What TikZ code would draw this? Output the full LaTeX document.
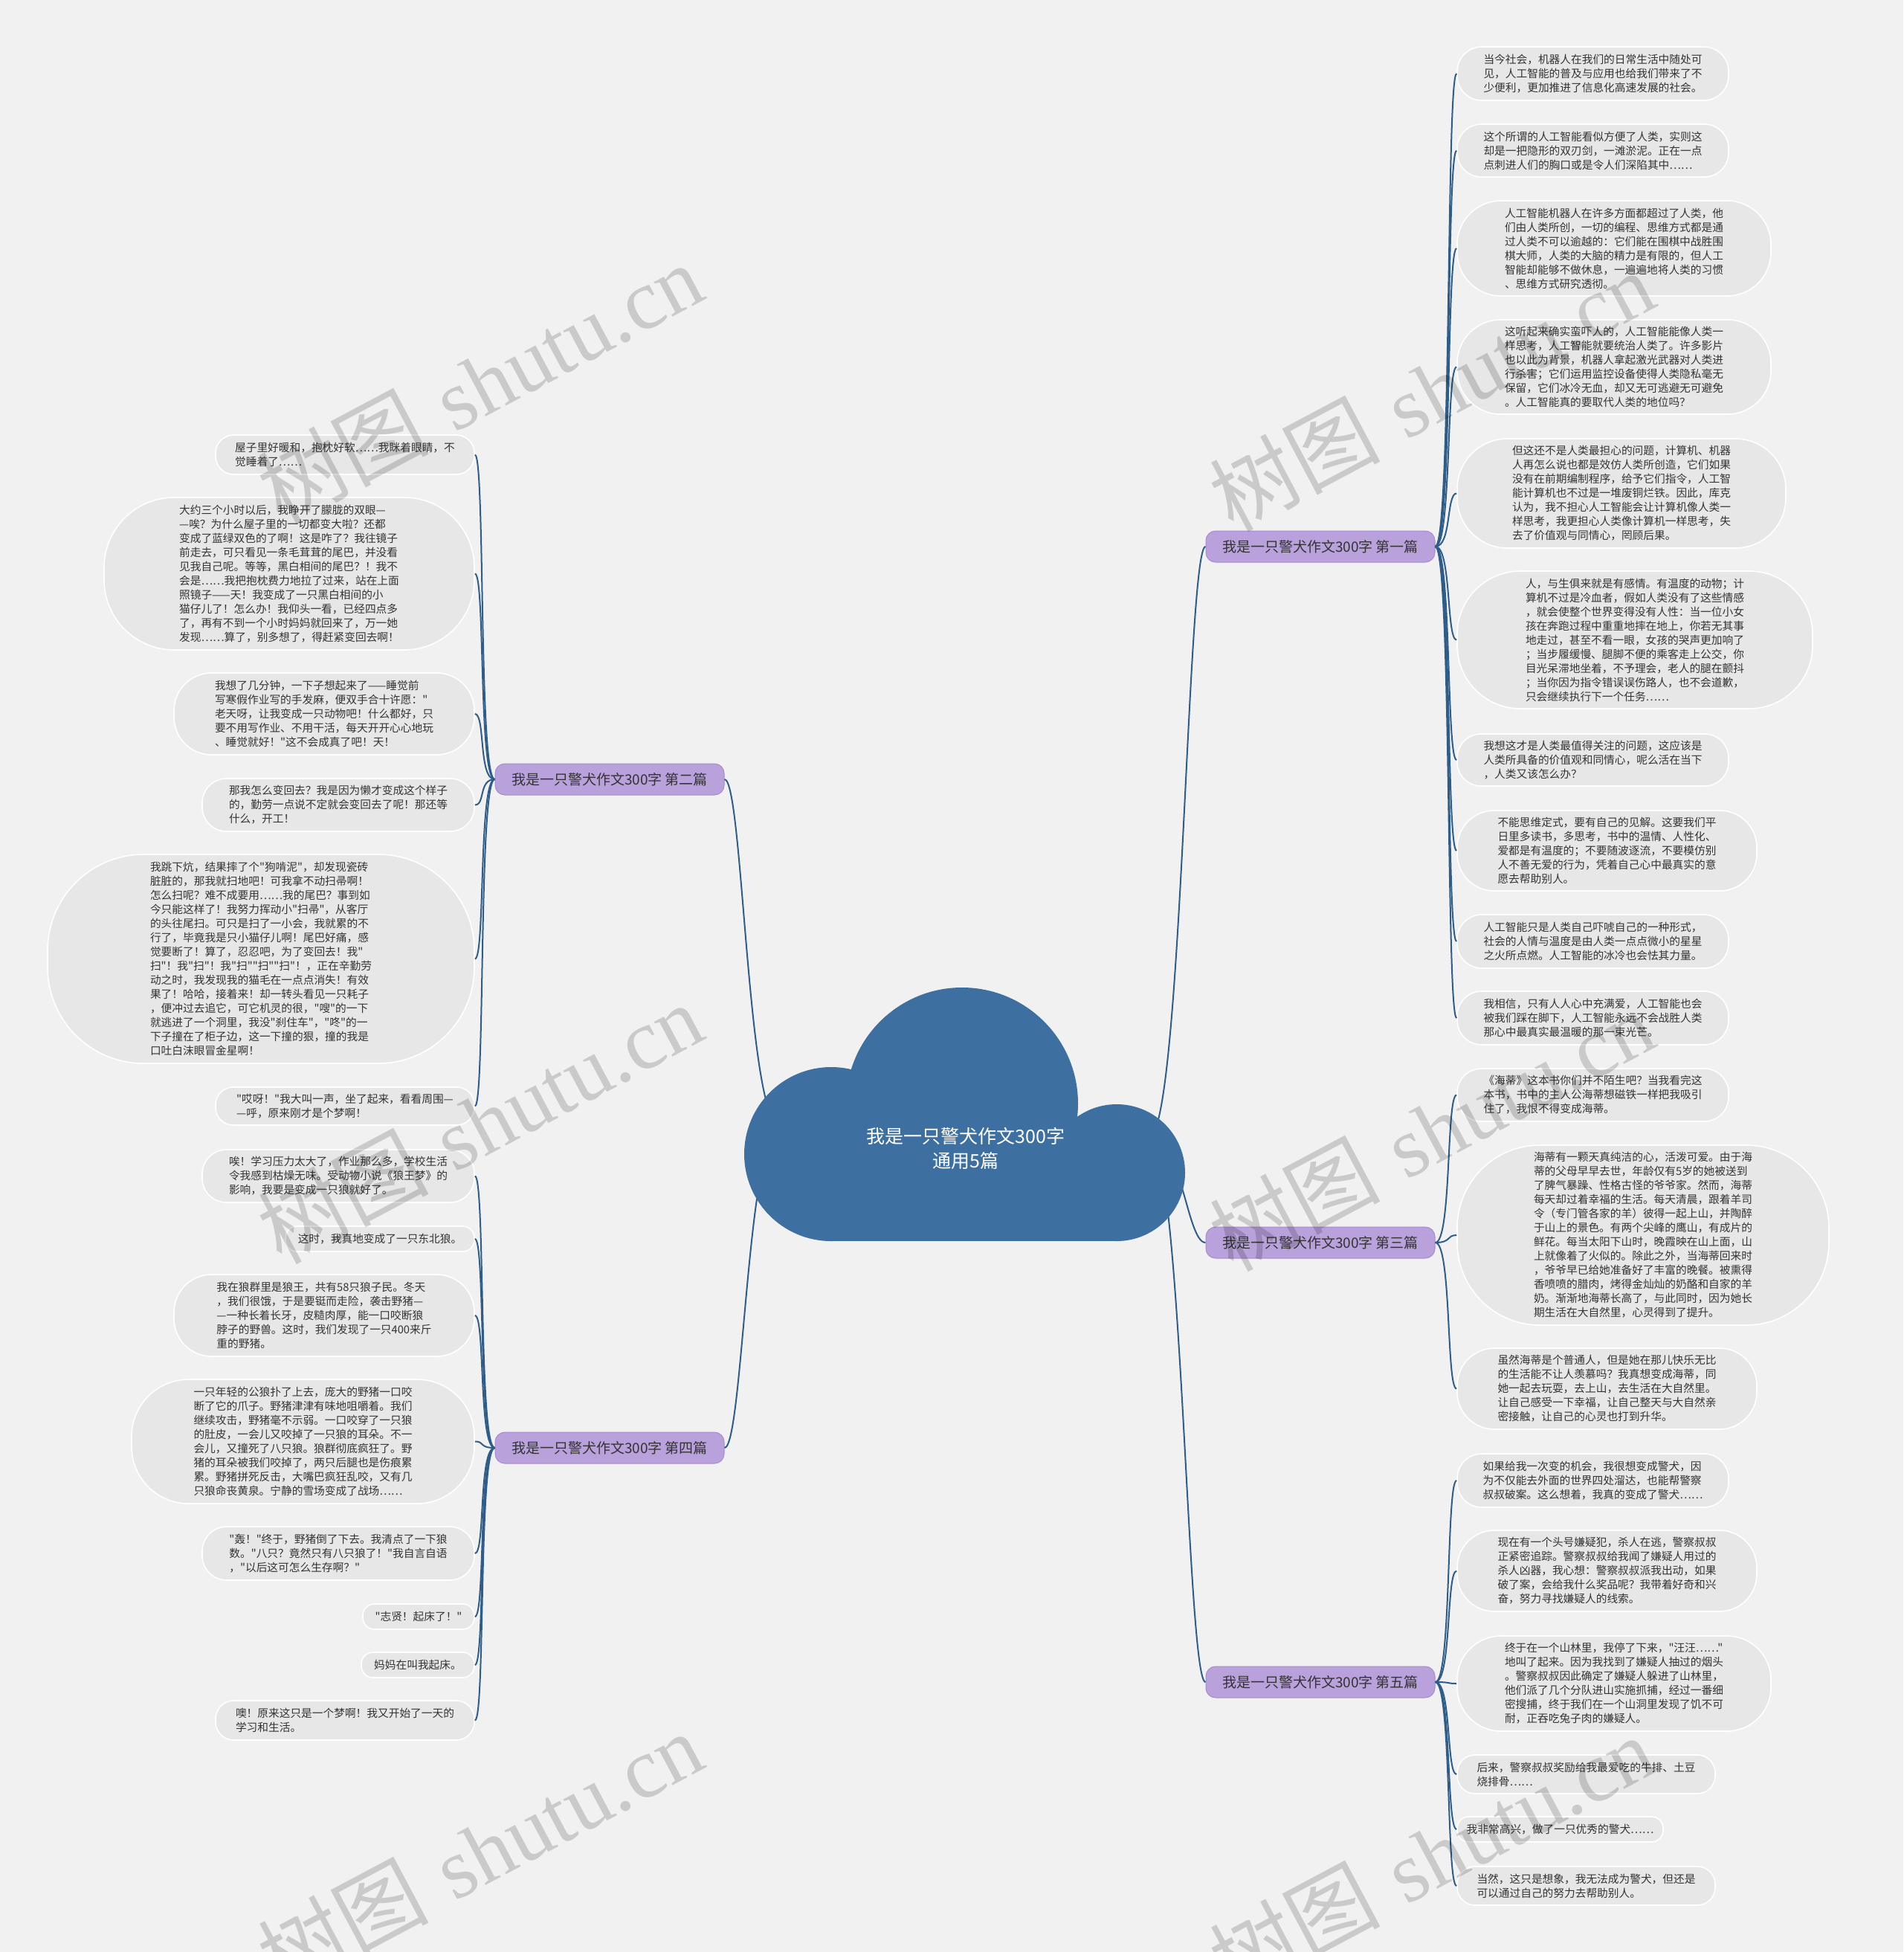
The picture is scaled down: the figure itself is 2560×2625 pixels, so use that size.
\documentclass[tikz,border=0pt]{standalone}
\usepackage{fontspec}
\newfontfamily\cjk{Noto Sans CJK SC}
\newfontfamily\wmserif{Liberation Serif}
\usetikzlibrary{calc}
\definecolor{bgc}{HTML}{F1F1F1}
\definecolor{leafc}{HTML}{E7E7E7}
\definecolor{txtc}{HTML}{333333}
\definecolor{brc}{HTML}{B9A1DB}
\definecolor{brd}{HTML}{A68BCF}
\definecolor{cloudc}{HTML}{3D6FA0}
\definecolor{connc}{HTML}{2E5D8A}
\tikzset{
 leaf/.style={draw=white,line width=1.6pt,fill=leafc,inner sep=0pt,align=left,text=txtc,font=\cjk\fontsize{14.7}{19}\selectfont},
 branch/.style={draw=brd,line width=1pt,fill=brc,rounded corners=13pt,minimum width=308pt,minimum height=42pt,inner sep=0pt,text=txtc,font=\cjk\fontsize{19}{22}\selectfont},
 conn/.style={draw=connc,line width=2pt},
 wm/.style={text=black,text opacity=0.16,rotate=28,inner sep=0pt,font=\fontsize{115}{120}\selectfont},
 ctext/.style={text=white,align=center,font=\cjk\fontsize{25}{33}\selectfont}
}
\newcommand\myleaf[6]{%
  \pgfmathsetmacro\lfw{#3-#2}%
  \pgfmathsetmacro\lfh{#5-#4}%
  \pgfmathsetmacro\lfr{0.46*\lfh}%
  \pgfmathsetmacro\lfx{(#2+#3)/2}%
  \pgfmathsetmacro\lfy{(#4+#5)/2}%
  \node[leaf,minimum width=\lfw pt,minimum height=\lfh pt,rounded corners=\lfr pt] (#1) at (\lfx,\lfy) {#6};%
}
\newcommand\lconn[2]{\draw[conn] (#1.west) .. controls +(-22,0) and +(14,0) .. (#2.east);}
\newcommand\rconn[2]{\draw[conn] (#1.east) .. controls +(22,0) and +(-14,0) .. (#2.west);}
\begin{document}
\begin{tikzpicture}[x=1pt,y=-1pt]
\useasboundingbox (0,0) rectangle (2560,2625);
\fill[bgc] (0,0) rectangle (2560,2625);

% branches
\node[branch] (b1) at (1776,735) {我是一只警犬作文300字 第一篇};
\node[branch] (b3) at (1776,1671) {我是一只警犬作文300字 第三篇};
\node[branch] (b5) at (1776,2262) {我是一只警犬作文300字 第五篇};
\node[branch] (b2) at (820,1048) {我是一只警犬作文300字 第二篇};
\node[branch] (b4) at (820,1947) {我是一只警犬作文300字 第四篇};

% left leaves (branch 2)
\myleaf{la}{290}{638}{585}{638}{屋子里好暖和，抱枕好软……我眯着眼睛，不\\
觉睡着了……}
\myleaf{lb}{140}{638}{669}{874}{大约三个小时以后，我睁开了朦胧的双眼—\\
—唉？为什么屋子里的一切都变大啦？还都\\
变成了蓝绿双色的了啊！这是咋了？我往镜子\\
前走去，可只看见一条毛茸茸的尾巴，并没看\\
见我自己呢。等等，黑白相间的尾巴？！我不\\
会是……我把抱枕费力地拉了过来，站在上面\\
照镜子——天！我变成了一只黑白相间的小\\
猫仔儿了！怎么办！我仰头一看，已经四点多\\
了，再有不到一个小时妈妈就回来了，万一她\\
发现……算了，别多想了，得赶紧变回去啊！}
\myleaf{lc}{234}{638}{905}{1015}{我想了几分钟，一下子想起来了——睡觉前\\
写寒假作业写的手发麻，便双手合十许愿："\\
老天呀，让我变成一只动物吧！什么都好，只\\
要不用写作业、不用干活，每天开开心心地玩\\
、睡觉就好！"这不会成真了吧！天！}
\myleaf{ld}{272}{638}{1047}{1118}{那我怎么变回去？我是因为懒才变成这个样子\\
的，勤劳一点说不定就会变回去了呢！那还等\\
什么，开工！}
\myleaf{le}{64}{638}{1149}{1430}{我跳下炕，结果摔了个"狗啃泥"，却发现瓷砖\\
脏脏的，那我就扫地吧！可我拿不动扫帚啊！\\
怎么扫呢？难不成要用……我的尾巴？事到如\\
今只能这样了！我努力挥动小"扫帚"，从客厅\\
的头往尾扫。可只是扫了一小会，我就累的不\\
行了，毕竟我是只小猫仔儿啊！尾巴好痛，感\\
觉要断了！算了，忍忍吧，为了变回去！我"\\
扫"！我"扫"！我"扫""扫""扫"！，正在辛勤劳\\
动之时，我发现我的猫毛在一点点消失！有效\\
果了！哈哈，接着来！却一转头看见一只耗子\\
，便冲过去追它，可它机灵的很，"嗖"的一下\\
就逃进了一个洞里，我没"刹住车"，"咚"的一\\
下子撞在了柜子边，这一下撞的狠，撞的我是\\
口吐白沫眼冒金星啊！}
\myleaf{lf}{290}{638}{1462}{1513}{"哎呀！"我大叫一声，坐了起来，看看周围—\\
—呼，原来刚才是个梦啊！}

% left leaves (branch 4)
\myleaf{lg}{272}{638}{1546}{1617}{唉！学习压力太大了，作业那么多，学校生活\\
令我感到枯燥无味。受动物小说《狼王梦》的\\
影响，我要是变成一只狼就好了。}
\myleaf{lh}{384}{638}{1649}{1683}{这时，我真地变成了一只东北狼。}
\myleaf{li}{234}{638}{1714}{1824}{我在狼群里是狼王，共有58只狼子民。冬天\\
，我们很饿，于是要铤而走险，袭击野猪—\\
—一种长着长牙，皮糙肉厚，能一口咬断狼\\
脖子的野兽。这时，我们发现了一只400来斤\\
重的野猪。}
\myleaf{lj}{177}{638}{1855}{2022}{一只年轻的公狼扑了上去，庞大的野猪一口咬\\
断了它的爪子。野猪津津有味地咀嚼着。我们\\
继续攻击，野猪毫不示弱。一口咬穿了一只狼\\
的肚皮，一会儿又咬掉了一只狼的耳朵。不一\\
会儿，又撞死了八只狼。狼群彻底疯狂了。野\\
猪的耳朵被我们咬掉了，两只后腿也是伤痕累\\
累。野猪拼死反击，大嘴巴疯狂乱咬，又有几\\
只狼命丧黄泉。宁静的雪场变成了战场……}
\myleaf{lk}{272}{638}{2053}{2125}{"轰！"终于，野猪倒了下去。我清点了一下狼\\
数。"八只？竟然只有八只狼了！"我自言自语\\
，"以后这可怎么生存啊？"}
\myleaf{ll}{488}{638}{2157}{2191}{"志贤！起床了！"}
\myleaf{lm}{486}{638}{2222}{2256}{妈妈在叫我起床。}
\myleaf{ln}{290}{638}{2287}{2340}{噢！原来这只是一个梦啊！我又开始了一天的\\
学习和生活。}

% right leaves (branch 1)
\myleaf{r1}{1960}{2325}{63}{135}{当今社会，机器人在我们的日常生活中随处可\\
见，人工智能的普及与应用也给我们带来了不\\
少便利，更加推进了信息化高速发展的社会。}
\myleaf{r2}{1960}{2325}{167}{238}{这个所谓的人工智能看似方便了人类，实则这\\
却是一把隐形的双刃剑，一滩淤泥。正在一点\\
点刺进人们的胸口或是令人们深陷其中……}
\myleaf{r3}{1960}{2382}{270}{398}{人工智能机器人在许多方面都超过了人类，他\\
们由人类所创，一切的编程、思维方式都是通\\
过人类不可以逾越的：它们能在围棋中战胜围\\
棋大师，人类的大脑的精力是有限的，但人工\\
智能却能够不做休息，一遍遍地将人类的习惯\\
、思维方式研究透彻。}
\myleaf{r4}{1960}{2382}{430}{557}{这听起来确实蛮吓人的，人工智能能像人类一\\
样思考，人工智能就要统治人类了。许多影片\\
也以此为背景，机器人拿起激光武器对人类进\\
行杀害；它们运用监控设备使得人类隐私毫无\\
保留，它们冰冷无血，却又无可逃避无可避免\\
。人工智能真的要取代人类的地位吗？}
\myleaf{r5}{1960}{2402}{590}{737}{但这还不是人类最担心的问题，计算机、机器\\
人再怎么说也都是效仿人类所创造，它们如果\\
没有在前期编制程序，给予它们指令，人工智\\
能计算机也不过是一堆废铜烂铁。因此，库克\\
认为，我不担心人工智能会让计算机像人类一\\
样思考，我更担心人类像计算机一样思考，失\\
去了价值观与同情心，罔顾后果。}
\myleaf{r6}{1960}{2438}{768}{953}{人，与生俱来就是有感情。有温度的动物；计\\
算机不过是冷血者，假如人类没有了这些情感\\
，就会使整个世界变得没有人性：当一位小女\\
孩在奔跑过程中重重地摔在地上，你若无其事\\
地走过，甚至不看一眼，女孩的哭声更加响了\\
；当步履缓慢、腿脚不便的乘客走上公交，你\\
目光呆滞地坐着，不予理会，老人的腿在颤抖\\
；当你因为指令错误误伤路人，也不会道歉，\\
只会继续执行下一个任务……}
\myleaf{r7}{1960}{2325}{987}{1057}{我想这才是人类最值得关注的问题，这应该是\\
人类所具备的价值观和同情心，呢么活在当下\\
，人类又该怎么办？}
\myleaf{r8}{1960}{2363}{1090}{1198}{不能思维定式，要有自己的见解。这要我们平\\
日里多读书，多思考，书中的温情、人性化、\\
爱都是有温度的；不要随波逐流，不要模仿别\\
人不善无爱的行为，凭着自己心中最真实的意\\
愿去帮助别人。}
\myleaf{r9}{1960}{2325}{1230}{1302}{人工智能只是人类自己吓唬自己的一种形式，\\
社会的人情与温度是由人类一点点微小的星星\\
之火所点燃。人工智能的冰冷也会怯其力量。}
\myleaf{r10}{1960}{2325}{1333}{1405}{我相信，只有人人心中充满爱，人工智能也会\\
被我们踩在脚下，人工智能永远不会战胜人类\\
那心中最真实最温暖的那一束光芒。}

% right leaves (branch 3)
\myleaf{r11}{1960}{2325}{1437}{1508}{《海蒂》这本书你们并不陌生吧？当我看完这\\
本书，书中的主人公海蒂想磁铁一样把我吸引\\
住了，我恨不得变成海蒂。}
\myleaf{r12}{1960}{2460}{1540}{1782}{海蒂有一颗天真纯洁的心，活泼可爱。由于海\\
蒂的父母早早去世，年龄仅有5岁的她被送到\\
了脾气暴躁、性格古怪的爷爷家。然而，海蒂\\
每天却过着幸福的生活。每天清晨，跟着羊司\\
令（专门管各家的羊）彼得一起上山，并陶醉\\
于山上的景色。有两个尖峰的鹰山，有成片的\\
鲜花。每当太阳下山时，晚霞映在山上面，山\\
上就像着了火似的。除此之外，当海蒂回来时\\
，爷爷早已给她准备好了丰富的晚餐。被熏得\\
香喷喷的腊肉，烤得金灿灿的奶酪和自家的羊\\
奶。渐渐地海蒂长高了，与此同时，因为她长\\
期生活在大自然里，心灵得到了提升。}
\myleaf{r13}{1960}{2363}{1813}{1922}{虽然海蒂是个普通人，但是她在那儿快乐无比\\
的生活能不让人羡慕吗？我真想变成海蒂，同\\
她一起去玩耍，去上山，去生活在大自然里。\\
让自己感受一下幸福，让自己整天与大自然亲\\
密接触，让自己的心灵也打到升华。}

% right leaves (branch 5)
\myleaf{r14}{1960}{2325}{1955}{2027}{如果给我一次变的机会，我很想变成警犬，因\\
为不仅能去外面的世界四处溜达，也能帮警察\\
叔叔破案。这么想着，我真的变成了警犬……}
\myleaf{r15}{1960}{2363}{2058}{2167}{现在有一个头号嫌疑犯，杀人在逃，警察叔叔\\
正紧密追踪。警察叔叔给我闻了嫌疑人用过的\\
杀人凶器，我心想：警察叔叔派我出动，如果\\
破了案，会给我什么奖品呢？我带着好奇和兴\\
奋，努力寻找嫌疑人的线索。}
\myleaf{r16}{1960}{2382}{2200}{2328}{终于在一个山林里，我停了下来，"汪汪……"\\
地叫了起来。因为我找到了嫌疑人抽过的烟头\\
。警察叔叔因此确定了嫌疑人躲进了山林里，\\
他们派了几个分队进山实施抓捕，经过一番细\\
密搜捕，终于我们在一个山洞里发现了饥不可\\
耐，正吞吃兔子肉的嫌疑人。}
\myleaf{r17}{1960}{2307}{2360}{2412}{后来，警察叔叔奖励给我最爱吃的牛排、土豆\\
烧排骨……}
\myleaf{r18}{1960}{2237}{2443}{2477}{我非常高兴，做了一只优秀的警犬……}
\myleaf{r19}{1960}{2307}{2510}{2562}{当然，这只是想象，我无法成为警犬，但还是\\
可以通过自己的努力去帮助别人。}

% connectors branch -> leaves
\foreach \l in {la,lb,lc,ld,le,lf} {\lconn{b2}{\l}}
\foreach \l in {lg,lh,li,lj,lk,ll,lm,ln} {\lconn{b4}{\l}}
\foreach \l in {r1,r2,r3,r4,r5,r6,r7,r8,r9,r10} {\rconn{b1}{\l}}
\foreach \l in {r11,r12,r13} {\rconn{b3}{\l}}
\foreach \l in {r14,r15,r16,r17,r18,r19} {\rconn{b5}{\l}}

% root connectors
\coordinate (cL) at (1050,1515);
\coordinate (cR) at (1545,1530);
\draw[conn] (cL) .. controls +(-45,0) and +(25,0) .. (b2.east);
\draw[conn] (cL) .. controls +(-45,0) and +(25,0) .. (b4.east);
\draw[conn] (cR) .. controls +(45,0) and +(-25,0) .. (b1.west);
\draw[conn] (cR) .. controls +(45,0) and +(-25,0) .. (b3.west);
\draw[conn] (cR) .. controls +(45,0) and +(-25,0) .. (b5.west);

% cloud
\fill[cloudc] (1294,1484) circle[radius=156pt];
\fill[cloudc] (1118,1552) circle[radius=117pt];
\fill[cloudc] (1502,1577) circle[radius=92pt];
\fill[cloudc] (1118,1540) rectangle (1502,1669);
\node[ctext] (root) at (1299,1544) {我是一只警犬作文300字\\通用5篇};

% watermarks
\node[wm] (wm1) at (645,515) {{\cjk 树图} {\wmserif shutu.cn}};
\node[wm] (wm2) at (1925,525) {{\cjk 树图} {\wmserif shutu.cn}};
\node[wm] (wm3) at (645,1510) {{\cjk 树图} {\wmserif shutu.cn}};
\node[wm] (wm4) at (1925,1520) {{\cjk 树图} {\wmserif shutu.cn}};
\node[wm] (wm5) at (645,2490) {{\cjk 树图} {\wmserif shutu.cn}};
\node[wm] (wm6) at (1925,2495) {{\cjk 树图} {\wmserif shutu.cn}};
\end{tikzpicture}
\end{document}
